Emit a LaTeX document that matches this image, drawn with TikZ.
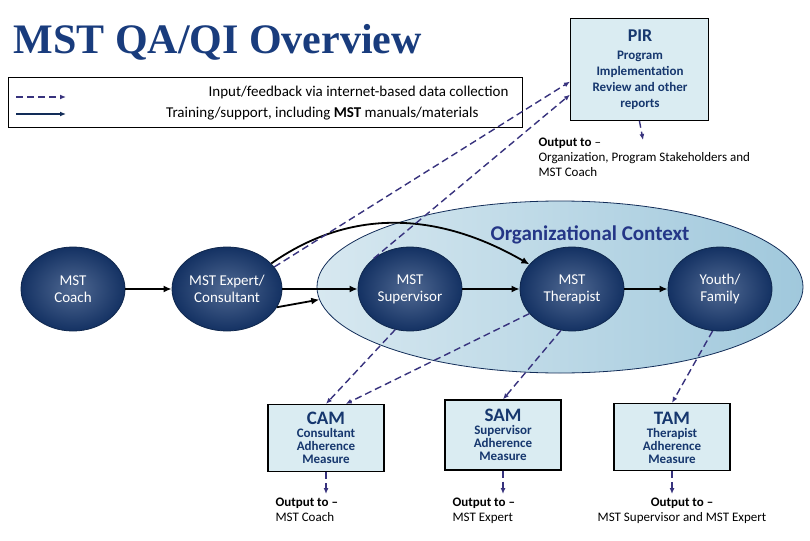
\documentclass[tikz,border=0pt]{standalone}
\usepackage{fontspec}
\setmainfont{Carlito}
\newfontfamily\ttl{Liberation Serif}
\usetikzlibrary{shapes.geometric,arrows.meta}
\definecolor{navy}{RGB}{22,55,110}
\definecolor{titleblue}{RGB}{25,60,125}
\definecolor{boxfill}{RGB}{218,236,242}
\definecolor{dashc}{RGB}{55,50,125}
\definecolor{ctx}{RGB}{40,60,150}
\definecolor{ctxl}{RGB}{215,232,240}
\definecolor{ctxr}{RGB}{160,200,220}
\tikzset{
 person/.style={ellipse,draw=navy!70!black,thick,inner color=navy!75,outer color=navy!90!black,text=white,font=\fontsize{15}{17}\selectfont,align=center,minimum width=104pt,minimum height=84pt,inner sep=0},
 meas/.style={draw=black,very thick,fill=boxfill,align=center,minimum width=116pt,inner sep=2pt,text=navy},
 fb/.style={draw=dashc,line width=1.4pt,dash pattern=on 7pt off 4pt,-{Latex[length=6pt,width=5pt]}},
 tr/.style={draw=black,line width=1.8pt,-{Latex[length=8pt,width=7pt]}},
 outtxt/.style={align=left,anchor=north west,font=\fontsize{13}{15}\selectfont}
}
\begin{document}
\begin{tikzpicture}[x=1pt,y=-1pt]
\useasboundingbox (0,0) rectangle (810,540);
\node[anchor=west,text=titleblue,font=\ttl\bfseries\fontsize{42}{44}\selectfont] (title) at (10,42) {MST QA/QI Overview};
% legend
\node[draw=black,thick,minimum width=514pt,minimum height=50pt,anchor=north west] (leg) at (8,77) {};
\coordinate (l1a) at (16,97); \coordinate (l1b) at (66,97);
\coordinate (l2a) at (16,114); \coordinate (l2b) at (66,114);
\draw[fb] (l1a) -- (l1b);
\draw[draw=navy!80!black,line width=1.4pt,-{Latex[length=6pt,width=5pt]}] (l2a) -- (l2b);
\node[anchor=east,font=\fontsize{15}{17}\selectfont] (lt1) at (512,93) {Input/feedback via internet-based data collection};
\node[anchor=east,font=\fontsize{15}{17}\selectfont] (lt2) at (482,114) {Training/support, including \textbf{MST} manuals/materials};
% context
\node[ellipse,draw=navy!80!black,thick,left color=ctxl,right color=ctxr,minimum width=486pt,minimum height=172pt] (ctx) at (560,287) {};
\node[text=ctx!90!black,font=\bfseries\fontsize{21}{23}\selectfont] (ctxlab) at (590,235) {Organizational Context};
% PIR
\node[draw=black,thick,fill=boxfill,minimum width=138pt,minimum height=102pt,anchor=north west] (pir) at (570,18) {};
\node[text=navy,align=center,font=\bfseries\fontsize{13}{16}\selectfont] (pirt) at (640,70) {{\fontsize{18}{20}\selectfont PIR}\\[2pt]Program\\Implementation\\Review and other\\reports};
% persons
\node[person] (coach) at (73,289) {MST\\Coach};
\node[person,minimum width=110pt] (expert) at (227,289) {MST Expert/\\Consultant};
\node[person] (sup) at (410,289) {MST\\Supervisor};
\node[person] (ther) at (572,289) {MST\\Therapist};
\node[person] (youth) at (720,289) {Youth/\\Family};
% measure boxes
\node[meas,minimum height=67pt] (cam) at (326,438) {};
\node[text=navy,align=center,font=\bfseries\fontsize{13}{13}\selectfont] (camt) at (326,438) {{\fontsize{19}{20}\selectfont CAM}\\Consultant\\Adherence\\Measure};
\node[meas,minimum height=70pt] (sam) at (503,435) {};
\node[text=navy,align=center,font=\bfseries\fontsize{13}{13}\selectfont] (samt) at (503,435) {{\fontsize{19}{20}\selectfont SAM}\\Supervisor\\Adherence\\Measure};
\node[meas,minimum height=67pt] (tam) at (672,437) {};
\node[text=navy,align=center,font=\bfseries\fontsize{13}{13}\selectfont] (tamt) at (672,438) {{\fontsize{19}{20}\selectfont TAM}\\Therapist\\Adherence\\Measure};
% outputs
\node[outtxt] (o1) at (272,494) {\textbf{Output to --}\\MST Coach};
\node[outtxt] (o2) at (449,494) {\textbf{Output to --}\\MST Expert};
\node[align=center,anchor=north,font=\fontsize{13}{15}\selectfont] (o3) at (682,494) {\textbf{Output to --}\\MST Supervisor and MST Expert};
\node[outtxt] (o4) at (535,134) {\textbf{Output to} --\\Organization, Program Stakeholders and\\MST Coach};
% solid arrows
\draw[tr] (coach) -- (expert);
\draw[tr] (expert) -- (sup);
\draw[tr] (expert.-20) -- (ctx.183);
\draw[tr] (expert.30) to[out=35,in=150] (ther.150);
\draw[tr] (sup) -- (ther);
\draw[tr] (ther) -- (youth);
% dashed arrows
\draw[fb] (expert.25) -- (pir.-170);
\draw[fb] (sup.140) -- (pir.-160);
\coordinate (pirout) at (643,140);
\draw[fb] (pir.-90) -- (pirout);
\draw[fb] (sup.-110) -- (cam.north);
\draw[fb] (ther.-150) -- (cam.60);
\draw[fb] (ther.-105) -- (sam.north);
\draw[fb] (youth.-100) -- (tam.north);
\draw[fb] (cam.south) -- (o1.north-|cam.south);
\draw[fb] (sam.south) -- (o2.north-|sam.south);
\draw[fb] (tam.south) -- (o3.north-|tam.south);
\end{tikzpicture}
\end{document}
